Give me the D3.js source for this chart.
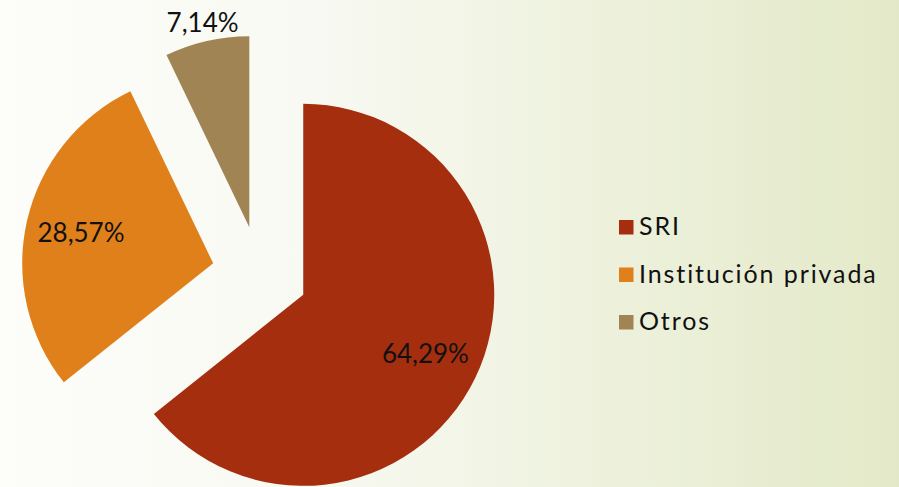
<!DOCTYPE html>
<html>
<head>
<meta charset="utf-8">
<script src="https://cdn.jsdelivr.net/npm/d3@7"></script>
<style>
  body { margin:0; padding:0; overflow:hidden; }
  svg { display:block; }
</style>
</head>
<body>
<svg></svg>
<script>
// data
var categories = ["SRI", "Institución privada", "Otros"];
var values = [64.29, 28.57, 7.14];
var colors = ["#a52e0f", "#e0801a", "#a08453"];

var screen = {width:899, height:487};
var center = {x:260, y:274};
var radius = 191;
var explode = 48;

var svg = d3.select("svg")
    .attr("width", screen.width)
    .attr("height", screen.height);

// background gradient, white on the left to pale green on the right
var grad = svg.append("defs").append("linearGradient")
    .attr("id", "bg")
    .attr("x1", "0").attr("y1", "0")
    .attr("x2", "1").attr("y2", "0");
grad.append("stop").attr("offset", "0").attr("stop-color", "#fdfdfa");
grad.append("stop").attr("offset", "0.35").attr("stop-color", "#f8f9f2");
grad.append("stop").attr("offset", "0.65").attr("stop-color", "#eef2de");
grad.append("stop").attr("offset", "1").attr("stop-color", "#e3e9c8");

svg.append("rect")
    .attr("width", screen.width)
    .attr("height", screen.height)
    .attr("fill", "url(#bg)");

var table = categories.map(function(c, i) {
    return {name:c, value:values[i], color:colors[i]};
});

var pie = d3.pie()
    .sort(null)
    .value(function(d) { return d.value; });

var arcGen = d3.arc()
    .innerRadius(0)
    .outerRadius(radius);

var total = d3.sum(values);
var fmt = function(v) { return d3.format(".2f")(v).replace(".", ",") + "%"; };

var target = svg.append("g")
    .attr("transform", "translate(" + center.x + "," + center.y + ")");

var slices = target.selectAll("g.slice")
    .data(pie(table))
    .enter()
    .append("g")
    .attr("class", "slice")
    .attr("transform", function(d) {
        var mid = (d.startAngle + d.endAngle) / 2;
        return "translate(" + (Math.sin(mid) * explode) + "," + (-Math.cos(mid) * explode) + ")";
    });

slices.append("path")
    .attr("d", arcGen)
    .attr("fill", function(d) { return d.data.color; });

// labels: inside for big slices, outside for the small one
slices.append("text")
    .attr("transform", function(d) {
        var mid = (d.startAngle + d.endAngle) / 2;
        var r = d.data.value / total < 0.1 ? radius * 1.1 : radius * 0.71;
        return "translate(" + (Math.sin(mid) * r) + "," + (-Math.cos(mid) * r) + ")";
    })
    .attr("text-anchor", "middle")
    .attr("dy", "0.36em")
    .style("font-family", "Lato, 'DejaVu Sans', sans-serif")
    .style("font-size", "26px")
    .style("fill", "#111")
    .text(function(d) { return fmt(d.data.value); });

// legend
var legend = svg.append("g")
    .attr("transform", "translate(619,220)");

var rows = legend.selectAll("g")
    .data(table)
    .enter()
    .append("g")
    .attr("transform", function(d, i) { return "translate(0," + (i * 47.5) + ")"; });

rows.append("rect")
    .attr("width", 14.5)
    .attr("height", 14.5)
    .attr("fill", function(d) { return d.color; });

rows.append("text")
    .attr("x", 20)
    .attr("y", 15)
    .style("font-family", "Lato, 'DejaVu Sans', sans-serif")
    .style("font-size", "25px")
    .style("letter-spacing", "1.9px")
    .style("fill", "#111")
    .text(function(d) { return d.name; });
</script>
</body>
</html>
